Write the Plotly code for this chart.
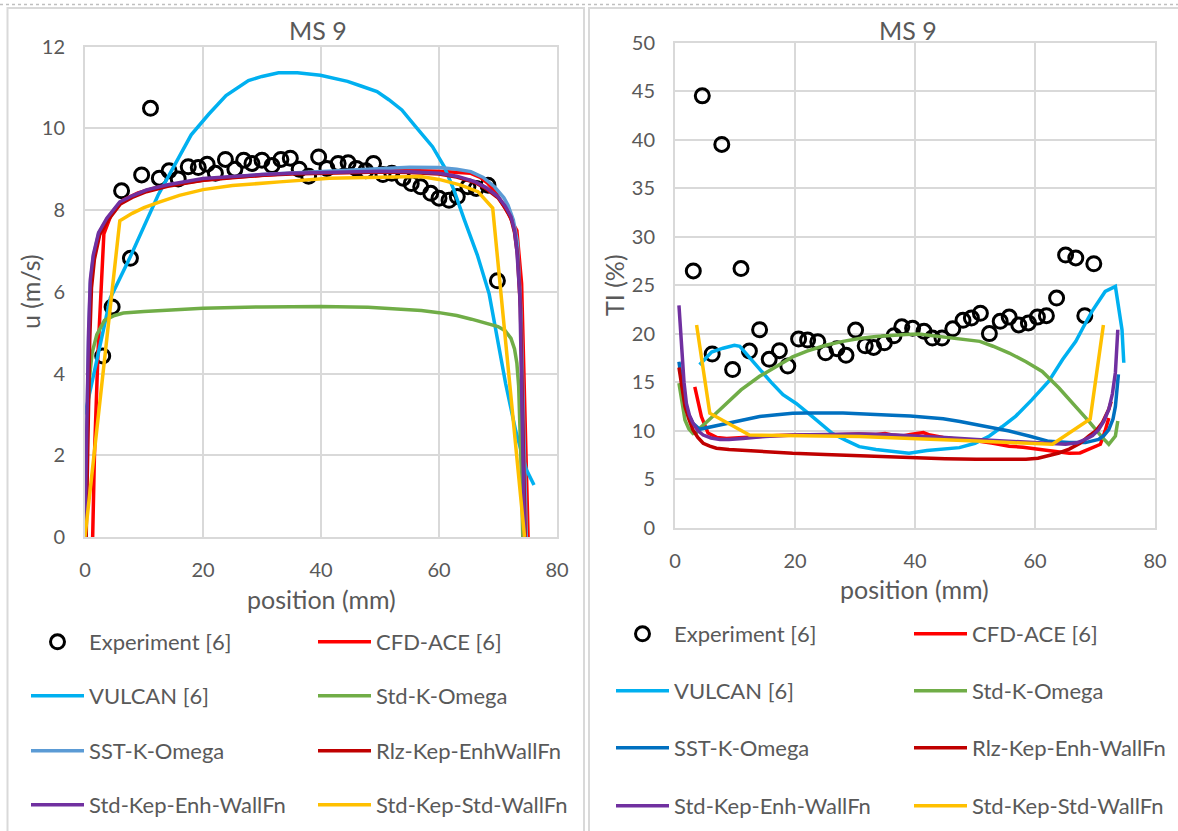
import plotly.graph_objects as go

W, H = 1178, 831


def px(x):
    return x / W


def py(y):
    return 1 - y / H


FONT = "Lato"
GREY = "#595959"
GRID = "#D9D9D9"

# ---------------- MS 9 : mean velocity u (m/s) ----------------
exp_u_x = [3.0, 4.6, 6.2, 7.7, 9.6, 11.1, 12.6, 14.25, 15.8, 17.5, 19.2, 20.7, 22.1, 23.8, 25.4,
           26.9, 28.3, 30.0, 31.7, 33.2, 34.8, 36.3, 37.9, 39.6, 41.0, 42.9, 44.6, 46.0, 47.6,
           48.9, 50.5, 52.0, 53.9, 55.3, 56.9, 58.6, 60.0, 61.7, 63.1, 64.9, 66.3, 68.3, 69.9]
exp_u = [4.43, 5.63, 8.47, 6.82, 8.86, 10.49, 8.78, 8.96, 8.76, 9.06, 9.04, 9.12, 8.9, 9.24, 9.0,
         9.22, 9.14, 9.22, 9.09, 9.24, 9.27, 9.0, 8.83, 9.3, 9.02, 9.14, 9.16, 9.02, 8.96,
         9.14, 8.87, 8.9, 8.78, 8.65, 8.57, 8.41, 8.29, 8.24, 8.33, 8.57, 8.53, 8.61, 6.27]

cfd_u_x = [1.3, 1.6, 2.2, 2.8, 3.2, 4.6, 6.5, 9, 12, 16, 20, 25, 30, 35, 40, 45, 50, 55, 60, 63,
           65.4, 67, 68.3, 69.5, 70.6, 71.8, 72.8, 73.2, 74.0, 75.1]
cfd_u = [0, 2.0, 4.5, 6.3, 7.42, 7.95, 8.25, 8.42, 8.55, 8.65, 8.73, 8.8, 8.86, 8.9, 8.93, 8.95,
         8.97, 8.97, 8.95, 8.93, 8.9, 8.8, 8.65, 8.45, 8.2, 7.9, 7.6, 7.5, 6.2, 0]

vul_u_x = [0, 4.3, 7.5, 10.4, 12.4, 15, 18, 21, 23.9, 27.7, 30, 32.8, 36, 39.9, 42.4, 44.5, 46.9,
           49.5, 51.5, 53.7, 56, 58.9, 60.9, 62.5, 64.3, 66.5, 68.5, 71.3, 73, 74.8, 76.1]
vul_u = [3.0, 5.85, 6.8, 7.76, 8.37, 9.05, 9.84, 10.35, 10.8, 11.17, 11.27, 11.36, 11.36, 11.3,
         11.23, 11.15, 11.03, 10.9, 10.7, 10.45, 10.05, 9.55, 9.06, 8.5, 7.76, 6.9, 5.95, 3.75,
         2.6, 1.65, 1.27]

skw_u_x = [0, 0.3, 0.7, 1.2, 2.0, 3.3, 5, 6.5, 10, 15, 20, 30, 40, 48, 53.3, 57, 60, 63, 65.5,
           68, 70, 71.2, 72.2, 72.8, 73.2, 73.5, 73.7, 73.9, 74.2]
skw_u = [0, 2.2, 3.8, 4.5, 4.95, 5.3, 5.42, 5.48, 5.52, 5.56, 5.6, 5.63, 5.64, 5.62, 5.58, 5.54,
         5.49, 5.42, 5.33, 5.24, 5.15, 5.05, 4.86, 4.6, 4.25, 3.7, 3.0, 1.8, 0]

sst_u_x = [0, 0.3, 0.6, 0.9, 1.4, 2.3, 3.7, 5.9, 8, 10.4, 14, 20, 25, 30, 35, 40, 45, 50, 55, 60,
           63, 65.4, 67.5, 69.4, 71, 71.7, 72.6, 73.3, 73.9, 74.4, 74.8]
sst_u = [0.2, 2.8, 4.8, 6.2, 6.85, 7.42, 7.77, 8.18, 8.33, 8.47, 8.6, 8.75, 8.82, 8.87, 8.91,
         8.95, 8.99, 9.02, 9.05, 9.04, 9.0, 8.94, 8.8, 8.57, 8.3, 8.12, 7.76, 7.2, 5.5, 2.5, 0]

rlz_u_x = [0.2, 0.5, 0.8, 1.1, 1.6, 2.5, 3.9, 6, 8, 10.4, 14, 20, 25, 30, 35, 40, 45, 50, 55, 60,
           63, 66, 68, 70, 71.2, 72.2, 72.8, 73.3, 73.8, 74.2, 74.6]
rlz_u = [0, 2.8, 4.8, 6.1, 6.8, 7.4, 7.75, 8.15, 8.31, 8.45, 8.58, 8.73, 8.8, 8.85, 8.88, 8.9,
         8.92, 8.93, 8.92, 8.88, 8.81, 8.68, 8.52, 8.3, 8.06, 7.8, 7.45, 6.9, 5.6, 2.8, 0]

ske_u_x = [0, 0.3, 0.6, 0.9, 1.4, 2.3, 3.7, 5.9, 8, 10.4, 14, 20, 25, 30, 35, 40, 45, 50, 55, 60,
           63, 66, 68, 70, 71.2, 72.2, 72.8, 73.2, 73.7, 74.1, 74.5]
ske_u = [0.2, 3.0, 5.0, 6.3, 6.9, 7.45, 7.8, 8.2, 8.35, 8.49, 8.62, 8.77, 8.83, 8.87, 8.9, 8.92,
         8.94, 8.95, 8.94, 8.9, 8.83, 8.7, 8.55, 8.33, 8.1, 7.84, 7.5, 7.0, 5.9, 3.0, 0]

sks_u_x = [0, 5.9, 8, 10, 12.7, 16, 20, 25, 33, 41.4, 50, 56.9, 60, 63.7, 66.6, 69.1, 74.5]
sks_u = [0, 7.74, 7.92, 8.06, 8.2, 8.36, 8.5, 8.6, 8.69, 8.78, 8.8, 8.82, 8.75, 8.61, 8.45,
         8.05, 0]

# ---------------- MS 9 : turbulence intensity TI (%) ----------------
exp_ti_x = [3.05, 4.55, 6.2, 7.8, 9.6, 11.0, 12.4, 14.1, 15.7, 17.4, 18.8, 20.6, 22.1, 23.8, 25.1,
            27.0, 28.5, 30.1, 31.7, 33.1, 34.9, 36.5, 37.8, 39.6, 41.5, 42.9, 44.5, 46.3, 48.0,
            49.4, 50.9, 52.4, 54.2, 55.7, 57.3, 58.9, 60.4, 61.9, 63.6, 65.1, 66.8, 68.3, 69.8]
exp_ti = [26.46, 44.5, 17.9, 39.5, 16.3, 26.7, 18.2, 20.4, 17.35, 18.24, 16.66, 19.44, 19.34,
          19.17, 18.03, 18.45, 17.76, 20.37, 18.75, 18.58, 19.06, 19.78, 20.7, 20.55, 20.24,
          19.55, 19.55, 20.5, 21.37, 21.6, 22.1, 20.0, 21.27, 21.7, 20.9, 21.1, 21.7, 21.85,
          23.66, 28.1, 27.8, 21.85, 27.2]

cfd_ti_x = [3.3, 4.4, 5.5, 7, 8.6, 11, 14.1, 17, 19.6, 22, 25.1, 28, 30.7, 33.5, 35, 36.2, 38,
            39.2, 41.4, 42.5, 44.7, 47.5, 50.2, 53, 55.7, 58, 60, 62.9, 65.7, 67.5, 69, 70.9,
            71.7, 72.3]
cfd_ti = [14.5, 11.45, 9.75, 9.3, 9.2, 9.25, 9.4, 9.5, 9.55, 9.55, 9.55, 9.6, 9.66, 9.6, 9.7,
          9.55, 9.45, 9.6, 9.8, 9.55, 9.3, 9.1, 8.95, 8.7, 8.4, 8.3, 8.15, 7.9, 7.67, 7.7, 8.1,
          8.6, 10.0, 11.3]

vul_ti_x = [4.1, 6.1, 8, 9.9, 10.8, 12.5, 14.1, 16, 18, 20.2, 23, 26.2, 28.5, 30.7, 33.5, 36.2,
            39, 42, 45, 47.4, 50, 52.4, 54.5, 56.8, 59.5, 62.3, 64.6, 66.8, 68, 69.5, 71.7, 73.4,
            74.5, 74.8]
vul_ti = [16.8, 18.1, 18.5, 18.8, 18.7, 17.5, 16.25, 15.0, 13.7, 12.8, 11.4, 9.73, 9.0, 8.35,
          8.05, 7.84, 7.67, 7.95, 8.1, 8.25, 8.7, 9.45, 10.4, 11.5, 13.2, 15.1, 17.33, 19.2, 20.6,
          22.3, 24.35, 24.86, 20.4, 17.0]

skw_ti_x = [0.66, 1.2, 1.66, 2.3, 3.0, 3.6, 4.1, 6, 8.6, 11, 14.1, 17, 19.6, 22, 25.1, 28, 30.7,
            33.5, 36.2, 38.5, 40.6, 44.7, 48, 50.8, 53, 55.7, 58.5, 61.2, 64, 66.8, 69.2, 71.2,
            72.3, 73.4, 73.8]
skw_ti = [14.9, 12.6, 11.1, 10.2, 9.7, 9.8, 10.24, 11.3, 12.8, 14.2, 15.6, 16.7, 17.6, 18.2,
          18.8, 19.2, 19.5, 19.7, 19.85, 19.92, 19.95, 19.66, 19.4, 19.2, 18.7, 18.0, 17.1, 16.1,
          14.4, 12.5, 10.8, 9.3, 8.6, 9.45, 11.0]

sst_ti_x = [0.66, 1.2, 1.66, 2.3, 3.0, 4.1, 6, 8.6, 11, 14.1, 17, 19.6, 22, 25.1, 28, 30.7, 33.5,
            36.2, 39.2, 41.5, 44.7, 47.5, 50.2, 53, 55.7, 59, 62.3, 65.7, 68.4, 70.6, 71.5, 72.3,
            73.0, 73.4, 73.9]
sst_ti = [17.1, 14.5, 12.8, 11.6, 10.76, 10.14, 10.4, 10.76, 11.1, 11.45, 11.65, 11.8, 11.82,
          11.83, 11.82, 11.75, 11.7, 11.6, 11.5, 11.4, 11.23, 10.95, 10.65, 10.3, 9.97, 9.45,
          8.9, 8.77, 8.77, 9.1, 9.5, 10.1, 11.2, 12.5, 15.8]

rlz_ti_x = [0.66, 1.2, 1.66, 2.3, 3.0, 3.8, 4.7, 5.8, 6.9, 9, 11.3, 15, 19.6, 25, 30.7, 35, 40.6,
            45, 50.2, 55, 58.5, 60.5, 62.3, 64, 65.7, 67.5, 69, 70.2, 71.2, 71.8, 72.3, 72.7]
rlz_ti = [16.5, 14.0, 12.5, 11.2, 10.07, 9.3, 8.7, 8.4, 8.19, 8.05, 7.95, 7.82, 7.67, 7.55,
          7.43, 7.3, 7.16, 7.1, 7.05, 7.0, 7.05, 7.15, 7.4, 7.7, 8.1, 8.7, 9.45, 10.0, 10.8,
          11.5, 12.2, 13.0]

ske_ti_x = [0.66, 0.9, 1.1, 1.5, 1.9, 2.4, 3.0, 3.8, 4.7, 6, 7.5, 9, 11.3, 15, 19.6, 25, 30.7, 35,
            40.6, 45, 50.2, 55, 58.5, 62, 65.1, 67, 68.4, 69.6, 70.6, 71.5, 72.3, 72.9, 73.4, 73.8]
ske_ti = [22.9, 20.3, 18.0, 15.0, 12.8, 11.6, 10.76, 10.0, 9.55, 9.25, 9.1, 9.1, 9.2, 9.4, 9.55,
          9.62, 9.66, 9.6, 9.45, 9.3, 9.1, 8.95, 8.77, 8.65, 8.6, 8.75, 9.1, 9.5, 10.1, 11.0,
          12.2, 13.8, 16.0, 20.4]

sks_ti_x = [3.6, 5.8, 12.4, 19.6, 25, 30.7, 35, 40.6, 45, 50.2, 55.7, 62.9, 69.2, 71.4]
sks_ti = [20.9, 11.8, 9.55, 9.5, 9.45, 9.4, 9.3, 9.2, 9.1, 8.94, 8.77, 8.6, 11.2, 20.9]

# ---------------- series styling ----------------
names_u = ["Experiment [6]", "CFD-ACE [6]", "VULCAN [6]", "Std-K-Omega", "SST-K-Omega",
           "Rlz-Kep-EnhWallFn", "Std-Kep-Enh-WallFn", "Std-Kep-Std-WallFn"]
names_ti = ["Experiment [6]", "CFD-ACE [6]", "VULCAN [6]", "Std-K-Omega", "SST-K-Omega",
            "Rlz-Kep-Enh-WallFn", "Std-Kep-Enh-WallFn", "Std-Kep-Std-WallFn"]
colors_u = [None, "#FF0000", "#00B0F0", "#70AD47", "#5B9BD5", "#C00000", "#7030A0", "#FFC000"]
colors_ti = [None, "#FF0000", "#00B0F0", "#70AD47", "#0070C0", "#C00000", "#7030A0", "#FFC000"]

data_u = [(exp_u_x, exp_u), (cfd_u_x, cfd_u), (vul_u_x, vul_u), (skw_u_x, skw_u),
          (sst_u_x, sst_u), (rlz_u_x, rlz_u), (ske_u_x, ske_u), (sks_u_x, sks_u)]
data_ti = [(exp_ti_x, exp_ti), (cfd_ti_x, cfd_ti), (vul_ti_x, vul_ti), (skw_ti_x, skw_ti),
           (sst_ti_x, sst_ti), (rlz_ti_x, rlz_ti), (ske_ti_x, ske_ti), (sks_ti_x, sks_ti)]

# legend grid: two columns, four rows under each panel (pixel positions)
leg_cols_u = [26, 313]
leg_rows_u = [642, 696, 751, 805]
leg_cols_ti = [611, 909]
leg_rows_ti = [634, 691, 748, 806]

fig = go.Figure()
layout_legends = {}


def add_panel(data, names, colors, xa, ya, first_idx, cols, rows):
    for i, ((xs, ys), name, col) in enumerate(zip(data, names, colors)):
        lid = "legend" if first_idx + i == 1 else f"legend{first_idx + i}"
        if col is None:
            tr = go.Scatter(x=xs, y=ys, mode="markers", name=name,
                            marker=dict(symbol="circle-open", size=14, color="black",
                                        line=dict(width=3, color="black")))
        else:
            tr = go.Scatter(x=xs, y=ys, mode="lines", name=name,
                            line=dict(color=col, width=3.5))
        tr.update(xaxis=xa, yaxis=ya, legend=lid, showlegend=True)
        fig.add_trace(tr)
        r, c = divmod(i, 2)
        layout_legends[lid] = dict(
            x=px(cols[c]), y=py(rows[r]), xanchor="left", yanchor="middle",
            orientation="v", itemwidth=53, bgcolor="rgba(0,0,0,0)", borderwidth=0,
            font=dict(family=FONT, size=22, color=GREY))


add_panel(data_u, names_u, colors_u, "x", "y", 1, leg_cols_u, leg_rows_u)
add_panel(data_ti, names_ti, colors_ti, "x2", "y2", 9, leg_cols_ti, leg_rows_ti)

axis_common = dict(showgrid=True, gridcolor=GRID, gridwidth=2, showline=True, linecolor=GRID,
                   linewidth=2, mirror=True, zeroline=False, ticks="outside", ticklen=14,
                   tickcolor="rgba(0,0,0,0)", tickfont=dict(family=FONT, size=20, color=GREY))

fig.update_layout(
    width=W, height=H, margin=dict(l=0, r=0, t=0, b=0, autoexpand=False),
    paper_bgcolor="white", plot_bgcolor="white", showlegend=True,
    xaxis=dict(domain=[px(85), px(557)], range=[0, 80], dtick=20, anchor="y", **axis_common),
    yaxis=dict(domain=[py(537), py(46.6)], range=[0, 12], dtick=2, anchor="x", **axis_common),
    xaxis2=dict(domain=[px(675), px(1155)], range=[0, 80], dtick=20, anchor="y2", **axis_common),
    yaxis2=dict(domain=[py(527.7), py(42.5)], range=[0, 50], dtick=5, anchor="x2", **axis_common),
    **layout_legends,
)

# titles and axis titles
title_font = dict(family=FONT, size=25, color=GREY)
texts = [
    ("MS 9", 318, 30, 0),
    ("MS 9", 908, 30, 0),
    ("position (mm)", 321, 599, 0),
    ("position (mm)", 915, 589, 0),
    ("u (m/s)", 30, 292, -90),
    ("TI (%)", 614, 285, -90),
]
for t, x, y, ang in texts:
    fig.add_annotation(text=t, x=px(x), y=py(y), xref="paper", yref="paper",
                       xanchor="center", yanchor="middle", showarrow=False,
                       textangle=ang, font=title_font)

# chart frames
frame = dict(color=GRID, width=2)
fig.add_shape(type="line", xref="paper", yref="paper", x0=0, x1=1, y0=py(4.5), y1=py(4.5),
              line=dict(color="#BFBFBF", width=1.5, dash="dot"))
for x0, x1 in [(7.5, 584), (589, 1200)]:
    fig.add_shape(type="rect", xref="paper", yref="paper", x0=px(x0), x1=px(x1),
                  y0=py(840), y1=py(8), line=frame, layer="below")

fig.write_html("out.html")
